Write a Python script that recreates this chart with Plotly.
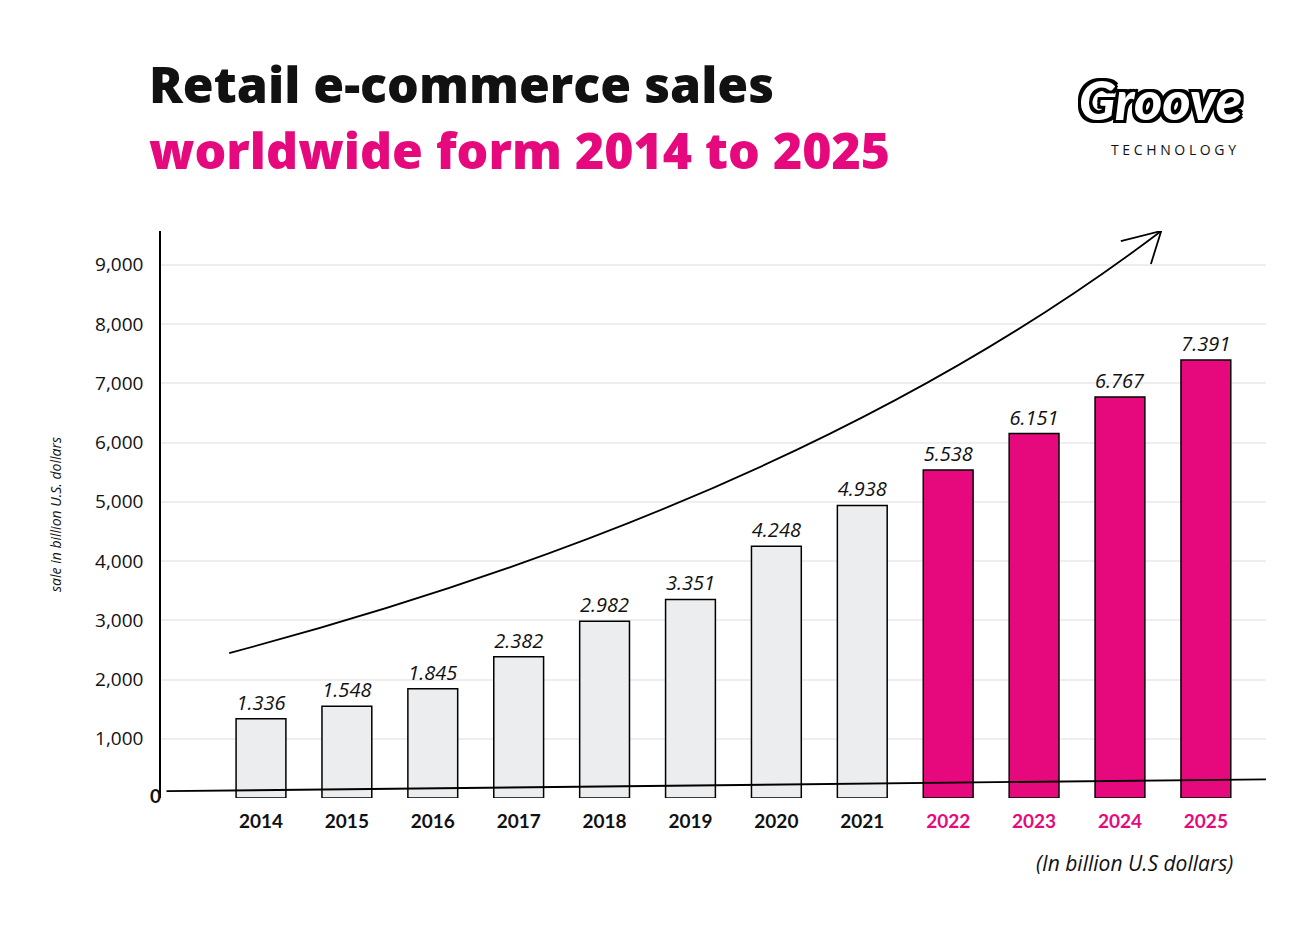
import plotly.graph_objects as go

years = [2014, 2015, 2016, 2017, 2018, 2019, 2020, 2021, 2022, 2023, 2024, 2025]
sales = [1.336, 1.548, 1.845, 2.382, 2.982, 3.351, 4.248, 4.938, 5.538, 6.151, 6.767, 7.391]
forecast_from = 2022
y_ticks = [1000, 2000, 3000, 4000, 5000, 6000, 7000, 8000, 9000]

PINK = "#E5097D"
GRAY = "#ECEDEF"

colors = [PINK if y >= forecast_from else GRAY for y in years]
heights = [v * 1000 for v in sales]

fig = go.Figure(go.Bar(
    x=years, y=heights, width=0.58,
    marker=dict(color=colors, line=dict(color="black", width=1.5)),
    text=[f"{v:.3f}" for v in sales], textposition="outside",
    textfont=dict(family="Open Sans", size=20, color="#111", style="italic"),
    cliponaxis=False,
))

ticktext = [f"<b><span style='color:{PINK if y >= forecast_from else '#111'}'>{y}</span></b>" for y in years]

fig.update_layout(
    width=1313, height=939,
    margin=dict(l=153, r=55, t=223, b=149),
    plot_bgcolor="white", paper_bgcolor="white",
    showlegend=False,
    xaxis=dict(range=[2012.836, 2025.70], tickvals=years, ticktext=ticktext,
               showgrid=False, zeroline=False, ticks="", ticklabelstandoff=10,
               tickfont=dict(family="Lato", size=19, color="#111")),
    yaxis=dict(range=[0, 9570], tickvals=y_ticks, tickformat=",",
               showgrid=True, gridcolor="#EEEEEE", gridwidth=1.5, zeroline=False,
               showline=True, linecolor="black", linewidth=1.5, ticks="",
               ticklabelstandoff=12,
               tickfont=dict(family="Open Sans", size=19, color="#111"),
               title=dict(text="sale in billion U.S. dollars", standoff=30,
                          font=dict(family="Open Sans", size=14, color="#111", style="italic"))),
    font=dict(family="Open Sans"),
)

# decorative growth arrow and hand-drawn baseline
fig.add_shape(type="path", xref="x", yref="y",
              path="M 2013.63,2447 Q 2020.36,5030 2024.48,9570",
              line=dict(color="black", width=1.8))
fig.add_shape(type="path", xref="x", yref="y",
              path="M 2024.01,9401 L 2024.48,9570 L 2024.36,9013",
              line=dict(color="black", width=1.8))
fig.add_shape(type="line", xref="paper", yref="paper", x0=0.005, y0=0.012, x1=1, y1=0.033,
              line=dict(color="black", width=1.8))

fig.add_annotation(text="0", xref="paper", yref="paper", x=-0.012, y=-0.02, showarrow=False,
                   font=dict(family="Lato", size=19, color="#111", weight="bold"))
fig.add_annotation(text="(In billion U.S dollars)", xref="paper", yref="paper", x=0.972, y=-0.143,
                   xanchor="right", showarrow=False,
                   font=dict(family="Open Sans", size=21, color="#111", style="italic"))

fig.add_annotation(text="Retail e-commerce sales", xref="paper", yref="paper", x=-0.013, y=1.259,
                   xanchor="left", yanchor="middle", showarrow=False,
                   font=dict(family="Open Sans", size=50, color="#111", weight=800))
fig.add_annotation(text="worldwide form 2014 to 2025", xref="paper", yref="paper", x=-0.013, y=1.143,
                   xanchor="left", yanchor="middle", showarrow=False,
                   font=dict(family="Open Sans", size=50, color=PINK, weight=800))

fig.add_annotation(text="<i>Groove</i>", xref="paper", yref="paper", x=0.98, y=1.232,
                   xanchor="right", yanchor="middle", showarrow=False,
                   font=dict(family="Lato", size=54, color="white", weight=900,
                             shadow="-3px -3px 0 #000, 3px -3px 0 #000, -3px 3px 0 #000, 3px 3px 0 #000, 0 3px 0 #000, 3px 0 0 #000, -3px 0 0 #000, 0 -3px 0 #000"))
fig.add_annotation(text="T E C H N O L O G Y", xref="paper", yref="paper", x=0.975, y=1.143,
                   xanchor="right", yanchor="middle", showarrow=False,
                   font=dict(family="Open Sans", size=14, color="#111"))

fig.write_html("out.html")
